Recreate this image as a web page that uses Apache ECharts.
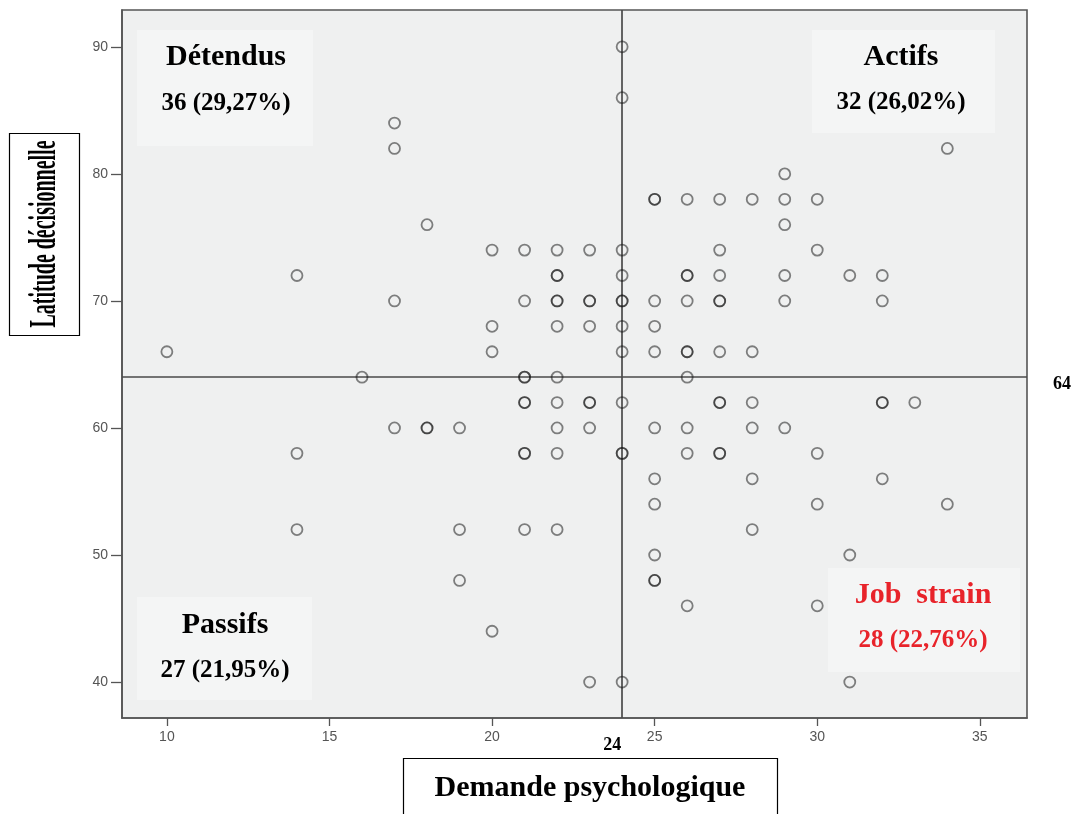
<!DOCTYPE html>
<html><head><meta charset="utf-8">
<script src="https://cdn.jsdelivr.net/npm/echarts@6/dist/echarts.min.js"></script>
<style>html,body{margin:0;padding:0;background:#fff}#c{width:1075px;height:814px}</style>
</head><body><div id="c"></div>
<script>
// Demande psychologique (x) and Latitude décisionnelle (y), one entry per respondent (duplicates overlap)
const demande = [
  10,
  14,14,14,
  16,
  17,17,17,17,
  18,18,18,
  19,19,19,
  20,20,20,20,
  21,21,21,21,21,21,21,21,21,
  22,22,22,22,22,22,22,22,22,22,22,
  23,23,23,23,23,23,23,23,
  24,24,24,24,24,24,24,24,24,24,24,24,
  25,25,25,25,25,25,25,25,25,25,25,
  26,26,26,26,26,26,26,26,26,26,
  27,27,27,27,27,27,27,27,27,27,
  28,28,28,28,28,28,
  29,29,29,29,29,29,
  30,30,30,30,30,
  31,31,31,
  32,32,32,32,32,
  33,
  34,34
];
const latitude = [
  66,
  72,58,52,
  64,
  84,82,70,60,
  76,60,60,
  60,52,48,
  74,68,66,44,
  74,70,64,64,62,62,58,58,52,
  74,72,72,70,70,68,64,62,60,58,52,
  74,70,70,68,62,62,60,40,
  90,86,74,72,70,70,68,66,62,58,58,40,
  78,78,70,68,66,60,56,54,50,48,48,
  78,72,72,70,66,66,64,60,58,46,
  78,74,72,70,70,66,62,62,58,58,
  78,66,62,60,56,52,
  80,78,76,72,70,60,
  78,74,58,54,46,
  72,50,40,
  72,70,62,62,56,
  62,
  82,54
];
const demandeCut = 24;
const latitudeCut = 64;
const xTicks = [10, 15, 20, 25, 30, 35];
const yTicks = [40, 50, 60, 70, 80, 90];
const quadrantNames = ['Détendus', 'Actifs', 'Passifs', 'Job  strain'];
const quadrantCounts = ['36 (29,27%)', '32 (26,02%)', '27 (21,95%)', '28 (22,76%)'];
const xTitle = 'Demande psychologique';
const yTitle = 'Latitude décisionnelle';

const serif = "'Liberation Serif', 'Times New Roman', serif";
const sans = "'Liberation Sans', Arial, sans-serif";

const chart = echarts.init(document.getElementById('c'), null, {renderer: 'canvas'});

const points = demande.map((d, i) => [d, latitude[i]]);

// layout of the quadrant label boxes (pixels)
const boxes = [
  {x: 137, y: 30, w: 176, h: 116, cx: 226, ty: 57, cy: 104, color: '#000'},
  {x: 812, y: 30, w: 183, h: 103, cx: 901, ty: 57, cy: 103, color: '#000'},
  {x: 137, y: 597, w: 175, h: 103, cx: 225, ty: 625, cy: 671, color: '#000'},
  {x: 828, y: 568, w: 192, h: 104, cx: 923, ty: 595, cy: 641, color: '#e8232a'}
];

const graphics = [];
boxes.forEach((b, i) => {
  graphics.push({type: 'rect', z: 1, silent: true, shape: {x: b.x, y: b.y, width: b.w, height: b.h},
    style: {fill: '#f4f5f5'}});
  graphics.push({type: 'text', z: 100, silent: true, x: b.cx, y: b.ty,
    style: {text: quadrantNames[i], font: 'bold 30px ' + serif, fill: b.color, align: 'center', verticalAlign: 'middle'}});
  graphics.push({type: 'text', z: 100, silent: true, x: b.cx, y: b.cy,
    style: {text: quadrantCounts[i], font: 'bold 25px ' + serif, fill: b.color, align: 'center', verticalAlign: 'middle'}});
});
// axis title boxes
graphics.push({type: 'rect', z: 1, silent: true, shape: {x: 9.5, y: 133.5, width: 70, height: 202},
  style: {fill: '#fff', stroke: '#000', lineWidth: 1.2}});
graphics.push({type: 'text', z: 100, silent: true, x: 45, y: 234, rotation: Math.PI / 2, scaleX: 0.54,
  style: {text: yTitle, font: 'bold 37px ' + serif, fill: '#000', align: 'center', verticalAlign: 'middle'}});
graphics.push({type: 'rect', z: 1, silent: true, shape: {x: 403.5, y: 758.5, width: 374, height: 70},
  style: {fill: '#fff', stroke: '#000', lineWidth: 1.2}});
graphics.push({type: 'text', z: 100, silent: true, x: 590, y: 788,
  style: {text: xTitle, font: 'bold 30px ' + serif, fill: '#000', align: 'center', verticalAlign: 'middle'}});

const option = {
  animation: false,
  backgroundColor: '#fff',
  grid: {left: 122, right: 48, top: 10, bottom: 96, show: true, backgroundColor: '#eff0f0',
    borderColor: '#555', borderWidth: 1.6},
  xAxis: {
    type: 'value', min: 8.62, max: 36.45,
    splitLine: {show: false},
    axisLine: {show: true, onZero: false, lineStyle: {color: '#555', width: 1.6}},
    axisTick: {show: true, length: 8, customValues: xTicks, lineStyle: {color: '#555', width: 1.3}},
    axisLabel: {customValues: xTicks, color: '#555', fontSize: 14, fontFamily: sans, margin: 12}
  },
  yAxis: {
    type: 'value', min: 37.17, max: 92.9,
    splitLine: {show: false},
    axisLine: {show: true, onZero: false, lineStyle: {color: '#555', width: 1.6}},
    axisTick: {show: true, length: 11, customValues: yTicks, lineStyle: {color: '#555', width: 1.3}},
    axisLabel: {customValues: yTicks, color: '#555', fontSize: 14, fontFamily: sans, margin: 14}
  },
  graphic: graphics,
  series: [{
    type: 'scatter',
    data: points,
    symbol: 'circle',
    symbolSize: 11,
    z: 5,
    silent: true,
    itemStyle: {color: 'rgba(0,0,0,0)', borderColor: 'rgba(20,20,20,0.66)', borderWidth: 1.8},
    emphasis: {disabled: true},
    markLine: {
      silent: true, symbol: 'none', animation: false,
      label: {show: false},
      lineStyle: {color: '#4a4a4a', width: 1.7, type: 'solid'},
      emphasis: {disabled: true},
      data: [{xAxis: demandeCut}, {yAxis: latitudeCut}]
    }
  }]
};
chart.setOption(option);

// cut-off value labels placed from the axis scales
const pCut = chart.convertToPixel({gridIndex: 0}, [demandeCut, latitudeCut]);
chart.setOption({graphic: graphics.concat([
  {type: 'text', z: 100, silent: true, x: pCut[0] - 10, y: 745,
    style: {text: String(demandeCut), font: 'bold 18px ' + serif, fill: '#000', align: 'center', verticalAlign: 'middle'}},
  {type: 'text', z: 100, silent: true, x: 1062, y: pCut[1] + 7,
    style: {text: String(latitudeCut), font: 'bold 18px ' + serif, fill: '#000', align: 'center', verticalAlign: 'middle'}}
])});
</script>
</body></html>
